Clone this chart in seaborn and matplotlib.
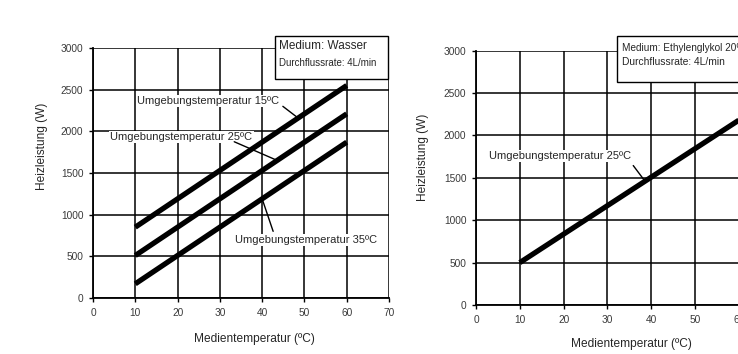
import matplotlib
matplotlib.use("Agg")
import matplotlib.pyplot as plt
from matplotlib.patches import Rectangle
import seaborn as sns
import pandas as pd

# ---- data ----
medium_temp = [10, 60]
water_15 = [850, 2550]
water_25 = [510, 2210]
water_35 = [170, 1870]
glycol_temp = [10, 60]
glycol_25 = [500, 2180]

x_ticks = [0, 10, 20, 30, 40, 50, 60, 70]
y_ticks = [0, 500, 1000, 1500, 2000, 2500, 3000]

label_15 = "Umgebungstemperatur 15ºC"
label_25 = "Umgebungstemperatur 25ºC"
label_35 = "Umgebungstemperatur 35ºC"
box_left = ["Medium: Wasser", "Durchflussrate: 4L/min"]
box_right = ["Medium: Ethylenglykol 20%", "Durchflussrate: 4L/min"]
xlabel = "Medientemperatur (ºC)"
ylabel = "Heizleistung (W)"

sns.set_style("white")
plt.rcParams["font.family"] = ["Liberation Sans", "DejaVu Sans"]

df_w = pd.DataFrame({
    "T": medium_temp * 3,
    "P": water_15 + water_25 + water_35,
    "s": ["15"] * 2 + ["25"] * 2 + ["35"] * 2,
})
df_g = pd.DataFrame({"T": glycol_temp, "P": glycol_25, "s": ["25"] * 2})

W, H = 738, 354
fig = plt.figure(figsize=(W / 100, H / 100), dpi=100)
axL = fig.add_axes([93 / W, 1 - 298 / H, 296 / W, 250 / H])
axR = fig.add_axes([476 / W, 1 - 305 / H, 306.6 / W, 254.3 / H])


def style(ax):
    ax.set_xlim(0, 70)
    ax.set_ylim(0, 3000)
    ax.set_xticks(x_ticks)
    ax.set_yticks(y_ticks)
    ax.grid(True, color="black", lw=1.1)
    ax.set_axisbelow(True)
    for s in ["top", "right"]:
        ax.spines[s].set_visible(False)
    for s in ["left", "bottom"]:
        ax.spines[s].set_color("black")
        ax.spines[s].set_linewidth(1.3)
    ax.tick_params(axis="both", direction="out", length=3, width=1,
                   color="black", labelsize=7.3, labelcolor="#3a3a3a", pad=4,
                   left=True, bottom=True)
    ax.set_xlabel(xlabel, fontsize=8.6)
    ax.set_ylabel(ylabel, fontsize=8.6)
    ax.xaxis.label.set_va("center")
    ax.yaxis.label.set_va("center")


sns.lineplot(data=df_w, x="T", y="P", units="s", estimator=None, ax=axL,
             color="black", lw=3.8, solid_capstyle="butt", legend=False)
sns.lineplot(data=df_g, x="T", y="P", units="s", estimator=None, ax=axR,
             color="black", lw=3.8, solid_capstyle="butt", legend=False)
style(axL)
style(axR)
axL.xaxis.set_label_coords(0.544, -0.164)
axL.yaxis.set_label_coords(-0.172, 0.608)
axR.xaxis.set_label_coords(0.506, -0.153)
axR.yaxis.set_label_coords(-0.173, 0.582)

tb = dict(facecolor="white", edgecolor="none", pad=1.0)
lead = dict(arrowstyle="-", lw=1.0, color="black", shrinkA=0, shrinkB=0)


def label(ax, txt, pos, p0, p1):
    ax.text(pos[0], pos[1], txt, ha="center", va="center", fontsize=8.0,
            bbox=tb, zorder=4)
    ax.annotate("", xy=p1, xytext=p0, arrowprops=lead, zorder=5)


label(axL, label_15, (27.2, 2364), (44.9, 2300), (48.5, 2160))
label(axL, label_25, (20.9, 1932), (33.4, 1875), (43.6, 1650))
label(axL, label_35, (50.4, 696), (42.6, 800), (40.0, 1190))
label(axR, label_25, (19.3, 1758), (35.9, 1645), (38.6, 1460))


def infobox(ax, x0, x1, y0, y1, lines, tx, ty, sizes):
    ax.add_patch(Rectangle((x0, y0), x1 - x0, y1 - y0, facecolor="white",
                           edgecolor="black", lw=1.0, clip_on=False, zorder=6))
    for line, y, fs in zip(lines, ty, sizes):
        ax.text(tx, y, line, ha="left", va="center", fontsize=fs,
                clip_on=False, zorder=7)


infobox(axL, 43.0, 69.8, 2628, 3144, box_left, 43.9, [3028, 2824], [8.5, 7.0])
infobox(axR, 32.2, 80.0, 2631, 3173, box_right, 33.3, [3028, 2863], [7.2, 7.4])

fig.savefig("out.png", dpi=100)
